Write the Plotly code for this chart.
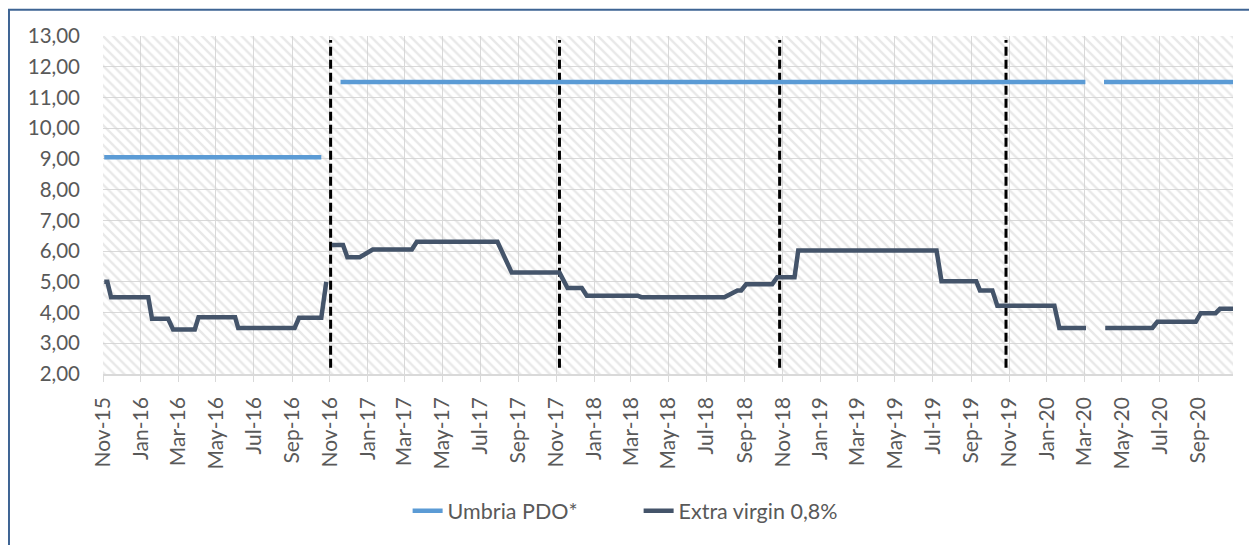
import plotly.graph_objects as go

# ---------------- data ----------------
EV_DATES = [
    '2015-11-03', '2015-11-08', '2015-11-14', '2016-01-13', '2016-01-19', '2016-02-14',
    '2016-02-22', '2016-03-28', '2016-04-03', '2016-06-01', '2016-06-06', '2016-09-05',
    '2016-09-12', '2016-10-18', '2016-10-26', None,
    '2016-11-04', '2016-11-22', '2016-11-29', '2016-12-19', '2017-01-09', '2017-03-13',
    '2017-03-21', '2017-07-29', '2017-08-21', '2017-11-06', '2017-11-19', '2017-12-12',
    '2017-12-20', '2018-03-12', '2018-03-18', '2018-07-30', '2018-08-20', '2018-08-26',
    '2018-09-03', '2018-10-15', '2018-10-23', '2018-11-20', '2018-11-26', '2019-07-07',
    '2019-07-15', '2019-09-09', '2019-09-15', '2019-10-05', '2019-10-13', '2020-01-13',
    '2020-01-21', '2020-03-04', None,
    '2020-04-04', '2020-06-19', '2020-06-27', '2020-08-28', '2020-09-05', '2020-09-29',
    '2020-10-06', '2020-10-27',
]
EV_VALUES = [
    5.0, 5.0, 4.5, 4.5, 3.8, 3.8,
    3.45, 3.45, 3.85, 3.85, 3.5, 3.5,
    3.83, 3.83, 5.0, None,
    6.2, 6.2, 5.8, 5.8, 6.05, 6.05,
    6.3, 6.3, 5.3, 5.3, 4.8, 4.8,
    4.55, 4.55, 4.5, 4.5, 4.72, 4.72,
    4.92, 4.92, 5.15, 5.15, 6.02, 6.02,
    5.02, 5.02, 4.72, 4.72, 4.22, 4.22,
    3.5, 3.5, None,
    3.5, 3.5, 3.7, 3.7, 3.98, 3.98,
    4.12, 4.12,
]

PDO_DATES = ['2015-11-03', '2016-10-18', None, '2016-11-18', '2020-03-03', None, '2020-04-02', '2020-10-27']
PDO_VALUES = [9.05, 9.05, None, 11.5, 11.5, None, 11.5, 11.5]

CAMPAIGN_DATES = ['2016-11-02', '2017-11-06', '2018-10-27', '2019-10-27']
CAMPAIGN_Y = [2.2, 12.87]

TICK_DATES = ['2015-11-01', '2016-01-01', '2016-03-01', '2016-05-01', '2016-07-01', '2016-09-01',
              '2016-11-01', '2017-01-01', '2017-03-01', '2017-05-01', '2017-07-01', '2017-09-01',
              '2017-11-01', '2018-01-01', '2018-03-01', '2018-05-01', '2018-07-01', '2018-09-01',
              '2018-11-01', '2019-01-01', '2019-03-01', '2019-05-01', '2019-07-01', '2019-09-01',
              '2019-11-01', '2020-01-01', '2020-03-01', '2020-05-01', '2020-07-01', '2020-09-01']
TICK_LABELS = ['Nov-15', 'Jan-16', 'Mar-16', 'May-16', 'Jul-16', 'Sep-16',
               'Nov-16', 'Jan-17', 'Mar-17', 'May-17', 'Jul-17', 'Sep-17',
               'Nov-17', 'Jan-18', 'Mar-18', 'May-18', 'Jul-18', 'Sep-18',
               'Nov-18', 'Jan-19', 'Mar-19', 'May-19', 'Jul-19', 'Sep-19',
               'Nov-19', 'Jan-20', 'Mar-20', 'May-20', 'Jul-20', 'Sep-20']

X_RANGE = ['2015-11-01', '2020-10-27']
Y_RANGE = [2, 13]

FONT = 'Lato'
TXT = '#595959'
GRID = '#d9d9d9'

fig = go.Figure()

# hatched plot-area background
fig.add_trace(go.Scatter(
    x=[X_RANGE[0], X_RANGE[1], X_RANGE[1], X_RANGE[0], X_RANGE[0]],
    y=[Y_RANGE[0], Y_RANGE[0], Y_RANGE[1], Y_RANGE[1], Y_RANGE[0]],
    mode='none', fill='toself', fillcolor='rgba(0,0,0,0)',
    fillpattern=dict(shape='\\', fgcolor='#d2d2d2', bgcolor='rgba(0,0,0,0)',
                     size=7, solidity=0.35, fillmode='overlay'),
    showlegend=False, hoverinfo='skip'))

# campaign separators (dashed verticals)
vx, vy = [], []
for d in CAMPAIGN_DATES:
    vx += [d, d, None]
    vy += [CAMPAIGN_Y[0], CAMPAIGN_Y[1], None]
fig.add_trace(go.Scatter(x=vx, y=vy, mode='lines',
                         line=dict(color='black', width=3, dash='9px,4px'),
                         showlegend=False, hoverinfo='skip'))

fig.add_trace(go.Scatter(x=PDO_DATES, y=PDO_VALUES, mode='lines', name='Umbria PDO*',
                         line=dict(color='#5B9BD5', width=4.5), connectgaps=False))
fig.add_trace(go.Scatter(x=EV_DATES, y=EV_VALUES, mode='lines', name='Extra virgin 0,8%',
                         line=dict(color='#44546A', width=4.5), connectgaps=False))

# outer chart border (partly off-page like the reference)
fig.add_shape(type='rect', xref='paper', yref='paper',
              x0=-0.0832, x1=1.2, y0=-0.8, y1=1.078,
              line=dict(color='#3E6494', width=2), fillcolor='rgba(0,0,0,0)', layer='below')

fig.update_layout(
    width=1257, height=545,
    margin=dict(l=95, r=32, t=28, b=179),
    paper_bgcolor='white', plot_bgcolor='white',
    separators=',.',
    font=dict(family=FONT, size=20, color=TXT),
    showlegend=True,
    legend=dict(orientation='h', x=0.474, xanchor='center', y=-0.405, yanchor='middle',
                entrywidth=186, entrywidthmode='pixels',
                font=dict(family=FONT, size=21.5, color=TXT), bgcolor='rgba(0,0,0,0)'),
    xaxis=dict(type='date', range=X_RANGE, tickmode='array', tickvals=TICK_DATES,
               ticktext=TICK_LABELS, tickangle=-90, showgrid=True, gridcolor=GRID, gridwidth=1,
               showline=True, linecolor=GRID, linewidth=1.5, ticks='outside', ticklen=6,
               tickcolor=GRID, zeroline=False, ticklabelstandoff=7,
               tickfont=dict(family=FONT, size=21, color=TXT)),
    yaxis=dict(range=Y_RANGE, dtick=1, tick0=2, tickformat='.2f', showgrid=True, gridcolor=GRID,
               gridwidth=1, zeroline=False, showline=False, ticks='', ticklabelstandoff=22,
               tickfont=dict(family=FONT, size=20.5, color=TXT)),
)

fig.write_html('out.html')
